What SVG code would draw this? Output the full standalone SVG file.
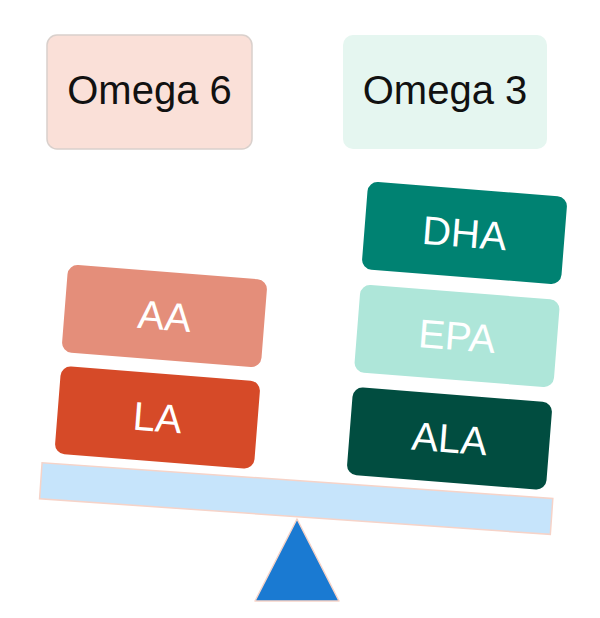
<svg xmlns="http://www.w3.org/2000/svg" width="600" height="618" viewBox="0 0 600 618">
<style>
  .lbl { font-family: "Liberation Sans", Arial, sans-serif; font-size: 40px; text-anchor: middle; }
  .hdr { fill: #111111; }
  .blk { fill: #ffffff; }
</style>
<rect width="600" height="618" fill="#ffffff"/>
<g id="omega6">
  <rect x="47" y="35" width="205" height="114" rx="10" fill="#FAE0D8" stroke="#D9D0CC" stroke-width="1.5"/>
  <text class="lbl hdr" x="149.5" y="104">Omega 6</text>
</g>
<g id="omega3">
  <rect x="343" y="35" width="204" height="114" rx="10" fill="#E5F6F0"/>
  <text class="lbl hdr" x="445" y="104">Omega 3</text>
</g>
<g id="beam" transform="translate(296.2,498.6) rotate(4)">
  <rect x="-256" y="-18" width="512" height="36" fill="#C6E4FB" stroke="#F6D3C8" stroke-width="1.5"/>
</g>
<g id="fulcrum">
  <polygon points="297,519 255,601 339,601" fill="#1A7AD2" stroke="#F6D3C8" stroke-width="1.5" stroke-linejoin="round"/>
</g>
<g id="AA" transform="translate(164.5,316) rotate(4.5)">
  <rect x="-100" y="-44" width="200" height="88" rx="10" fill="#E48E7A"/>
  <text class="lbl blk" x="0" y="14">AA</text>
</g>
<g id="LA" transform="translate(157.5,417.5) rotate(4.5)">
  <rect x="-100" y="-44" width="200" height="88" rx="10" fill="#D64A28"/>
  <text class="lbl blk" x="0" y="14">LA</text>
</g>
<g id="DHA" transform="translate(464.5,233) rotate(4.5)">
  <rect x="-100" y="-44" width="200" height="88" rx="10" fill="#008272"/>
  <text class="lbl blk" x="0" y="14">DHA</text>
</g>
<g id="EPA" transform="translate(457,336) rotate(4.5)">
  <rect x="-100" y="-44" width="200" height="88" rx="10" fill="#AEE6D9"/>
  <text class="lbl blk" x="0" y="14">EPA</text>
</g>
<g id="ALA" transform="translate(449.5,438.5) rotate(4.5)">
  <rect x="-100" y="-44" width="200" height="88" rx="10" fill="#014D40"/>
  <text class="lbl blk" x="0" y="14">ALA</text>
</g>
</svg>
